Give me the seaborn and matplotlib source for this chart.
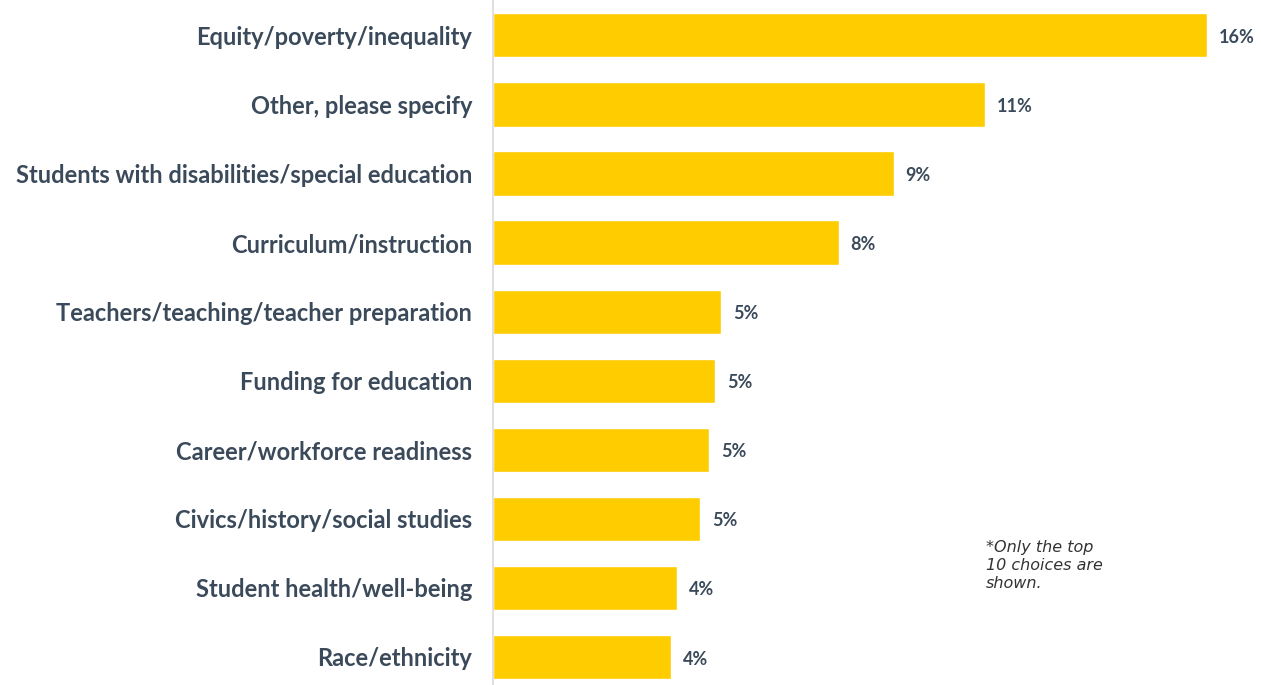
import matplotlib
matplotlib.use("Agg")
import matplotlib.pyplot as plt
import seaborn as sns
import pandas as pd

# --- data ---
topics = [
    "Equity/poverty/inequality",
    "Other, please specify",
    "Students with disabilities/special education",
    "Curriculum/instruction",
    "Teachers/teaching/teacher preparation",
    "Funding for education",
    "Career/workforce readiness",
    "Civics/history/social studies",
    "Student health/well-being",
    "Race/ethnicity",
]
shares = [16.0, 11.03, 8.98, 7.75, 5.12, 4.98, 4.85, 4.65, 4.13, 3.99]
share_labels = ["16%", "11%", "9%", "8%", "5%", "5%", "5%", "5%", "4%", "4%"]
note = "*Only the top\n10 choices are\nshown."

df = pd.DataFrame({"topic": topics, "share": shares})

sns.set_theme(style="white")
plt.rcParams["font.family"] = ["Lato", "DejaVu Sans"]

label_color = "#3b4a5a"
bar_color = "#ffcc00"

fig = plt.figure(figsize=(12.61, 6.85), dpi=100)
ax = fig.add_axes([0.391, -0.0095, 0.619, 1.0083])

sns.barplot(data=df, x="share", y="topic", color=bar_color, width=0.64,
            saturation=1, ax=ax)

ax.set_xlim(0, 17.5)
ax.set_ylim(9.5, -0.5)
ax.set_xlabel("")
ax.set_ylabel("")
ax.set_xticks([])
ax.tick_params(axis="y", length=0, pad=15)
for t in ax.get_yticklabels():
    t.set_fontsize(17)
    t.set_fontweight("bold")
    t.set_color(label_color)

for side in ["top", "right", "bottom"]:
    ax.spines[side].set_visible(False)
ax.spines["left"].set_color("#d9d9d9")
ax.spines["left"].set_linewidth(1.2)

for i, (v, lab) in enumerate(zip(shares, share_labels)):
    ax.annotate(lab, (v, i), xytext=(8.5, -1.5), textcoords="offset points",
                va="center", ha="left", fontsize=13, fontweight="bold",
                color=label_color)

fig.text(0.782, 0.212, note, fontsize=11.5, style="italic", color="#333333",
         family="DejaVu Sans", va="top", ha="left", linespacing=1.25)

fig.savefig("out.png", dpi=100)
